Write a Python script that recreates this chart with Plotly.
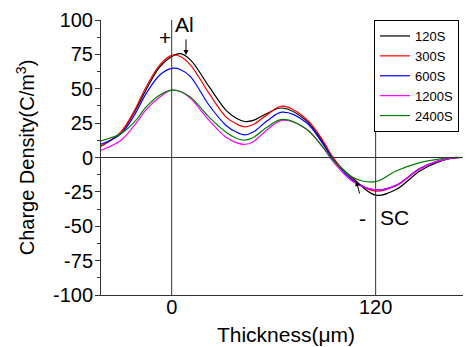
import plotly.graph_objects as go

# thickness positions (um) at which values were read
thickness = [-42, -30, -22, -15, -7, 0, 5, 11, 22, 32, 38, 43, 48, 56, 65, 79, 89, 95, 107, 120, 132, 146, 157, 165, 171]

s120 = [8, 18, 33, 49.5, 66, 73.5, 75.5, 71, 51.5, 34.3, 28.5, 26.2, 27, 32, 36, 27, 11, -1, -15.5, -27.4, -23.3, -9.8, -3.2, -0.5, 0]
s300 = [8, 18.5, 34, 51.5, 67.4, 74.3, 73.5, 67.4, 46.6, 29.4, 24.5, 22.3, 24, 31, 37.3, 28.2, 12.3, 0, -16.5, -24.5, -20.3, -8.1, -2.5, -0.3, 0]
s600 = [9.5, 17, 30.7, 46.6, 60, 64.8, 64, 58.8, 38, 23.3, 18.5, 16.5, 18.5, 26.5, 33, 25.7, 9.8, -1.5, -17, -23.5, -20.3, -8.1, -2.5, -0.3, 0]
s1200 = [5, 12.3, 23.3, 34.8, 44, 49, 48, 43, 27, 14.7, 10.8, 9.5, 11.5, 20, 27, 20.9, 7.4, -3, -17.9, -23.5, -20.5, -8.3, -2.5, -0.3, 0]
s2400 = [12, 17.2, 25.7, 36.8, 45.4, 49, 48, 44, 29.4, 18.4, 14, 12.6, 14.5, 22, 27.7, 20.9, 7.4, -2, -14.7, -17.6, -9.8, -3.7, -1.2, 0, 0]

series_names = ["120S", "300S", "600S", "1200S", "2400S"]
series_vals = [s120, s300, s600, s1200, s2400]
colors = ["#000000", "#ff0000", "#0000ff", "#ff00ff", "#008000"]

y_ticks = [-100, -75, -50, -25, 0, 25, 50, 75, 100]
y_tick_text = ["-100", "-75", "-50", "-25", "0", "25", "50", "75", "100"]
x_ticks = [0, 120]
x_tick_text = ["0", "120"]

FONT = "Liberation Sans, Arial, sans-serif"

fig = go.Figure()
for name, vals, col in zip(series_names, series_vals, colors):
    fig.add_trace(go.Scatter(x=thickness, y=vals, mode="lines", name=name,
                             line=dict(color=col, width=1.2, shape="spline", smoothing=1.0)))

# reference lines
fig.add_shape(type="line", xref="x", yref="y", x0=0, x1=0, y0=-100, y1=100,
              line=dict(color="#333333", width=1))
fig.add_shape(type="line", xref="x", yref="y", x0=120, x1=120, y0=-100, y1=100,
              line=dict(color="#333333", width=1))
fig.add_shape(type="line", xref="paper", yref="y", x0=0, x1=1, y0=0, y1=0,
              line=dict(color="#333333", width=1))

ann_font = dict(family=FONT, size=21, color="black")
fig.add_annotation(x=-3.9, y=87.6, text="+", showarrow=False, font=ann_font, xref="x", yref="y")
fig.add_annotation(x=7.5, y=97, text="Al", showarrow=False, font=ann_font, xref="x", yref="y")
fig.add_annotation(x=8.4, y=74.5, ax=8.4, ay=87, axref="x", ayref="y", xref="x", yref="y",
                   text="", showarrow=True, arrowhead=2, arrowsize=1, arrowwidth=1, arrowcolor="black")
fig.add_annotation(x=112.5, y=-44, text="-", showarrow=False, font=ann_font, xref="x", yref="y")
fig.add_annotation(x=130.8, y=-43.4, text="SC", showarrow=False, font=ann_font, xref="x", yref="y")
fig.add_annotation(x=108.6, y=-17.1, ax=110.8, ay=-27.3, axref="x", ayref="y", xref="x", yref="y",
                   text="", showarrow=True, arrowhead=2, arrowsize=1, arrowwidth=1, arrowcolor="black")

# the page body has an 8px margin, so the figure is sized to fit inside the window
fig.update_layout(
    width=463, height=339,
    margin=dict(l=93, r=0, t=12, b=52, autoexpand=False),
    plot_bgcolor="white", paper_bgcolor="white",
    font=dict(family=FONT, color="black"),
    showlegend=True,
    legend=dict(x=0.9676, y=1.0, xanchor="right", yanchor="top",
                bordercolor="black", borderwidth=1, bgcolor="white",
                font=dict(family=FONT, size=13, color="black"),
                itemwidth=30, tracegroupgap=0),
    xaxis=dict(range=[-41.6, 176.1], tickvals=x_ticks, ticktext=x_tick_text,
               ticks="", showgrid=False, zeroline=False, showline=True, automargin=False,
               linecolor="#333333", linewidth=1, ticklabelstandoff=-6,
               tickfont=dict(family=FONT, size=20),
               title=dict(text="Thickness(\u03bcm)", font=dict(family=FONT, size=21), standoff=10)),
    yaxis=dict(range=[-100, 100], tickvals=y_ticks, ticktext=y_tick_text,
               ticks="outside", ticklen=5, automargin=False,
               tickcolor="#333333", showgrid=False, zeroline=False, showline=True,
               linecolor="#333333", linewidth=1, ticklabelstandoff=-2,
               tickfont=dict(family=FONT, size=20),
               minor=dict(dtick=12.5, tick0=0, ticks="outside", ticklen=3, tickcolor="#333333"),
               title=dict(text="Charge Density(C/m<sup>3</sup>)", font=dict(family=FONT, size=20), standoff=12)),
)

fig.write_html("out.html")
